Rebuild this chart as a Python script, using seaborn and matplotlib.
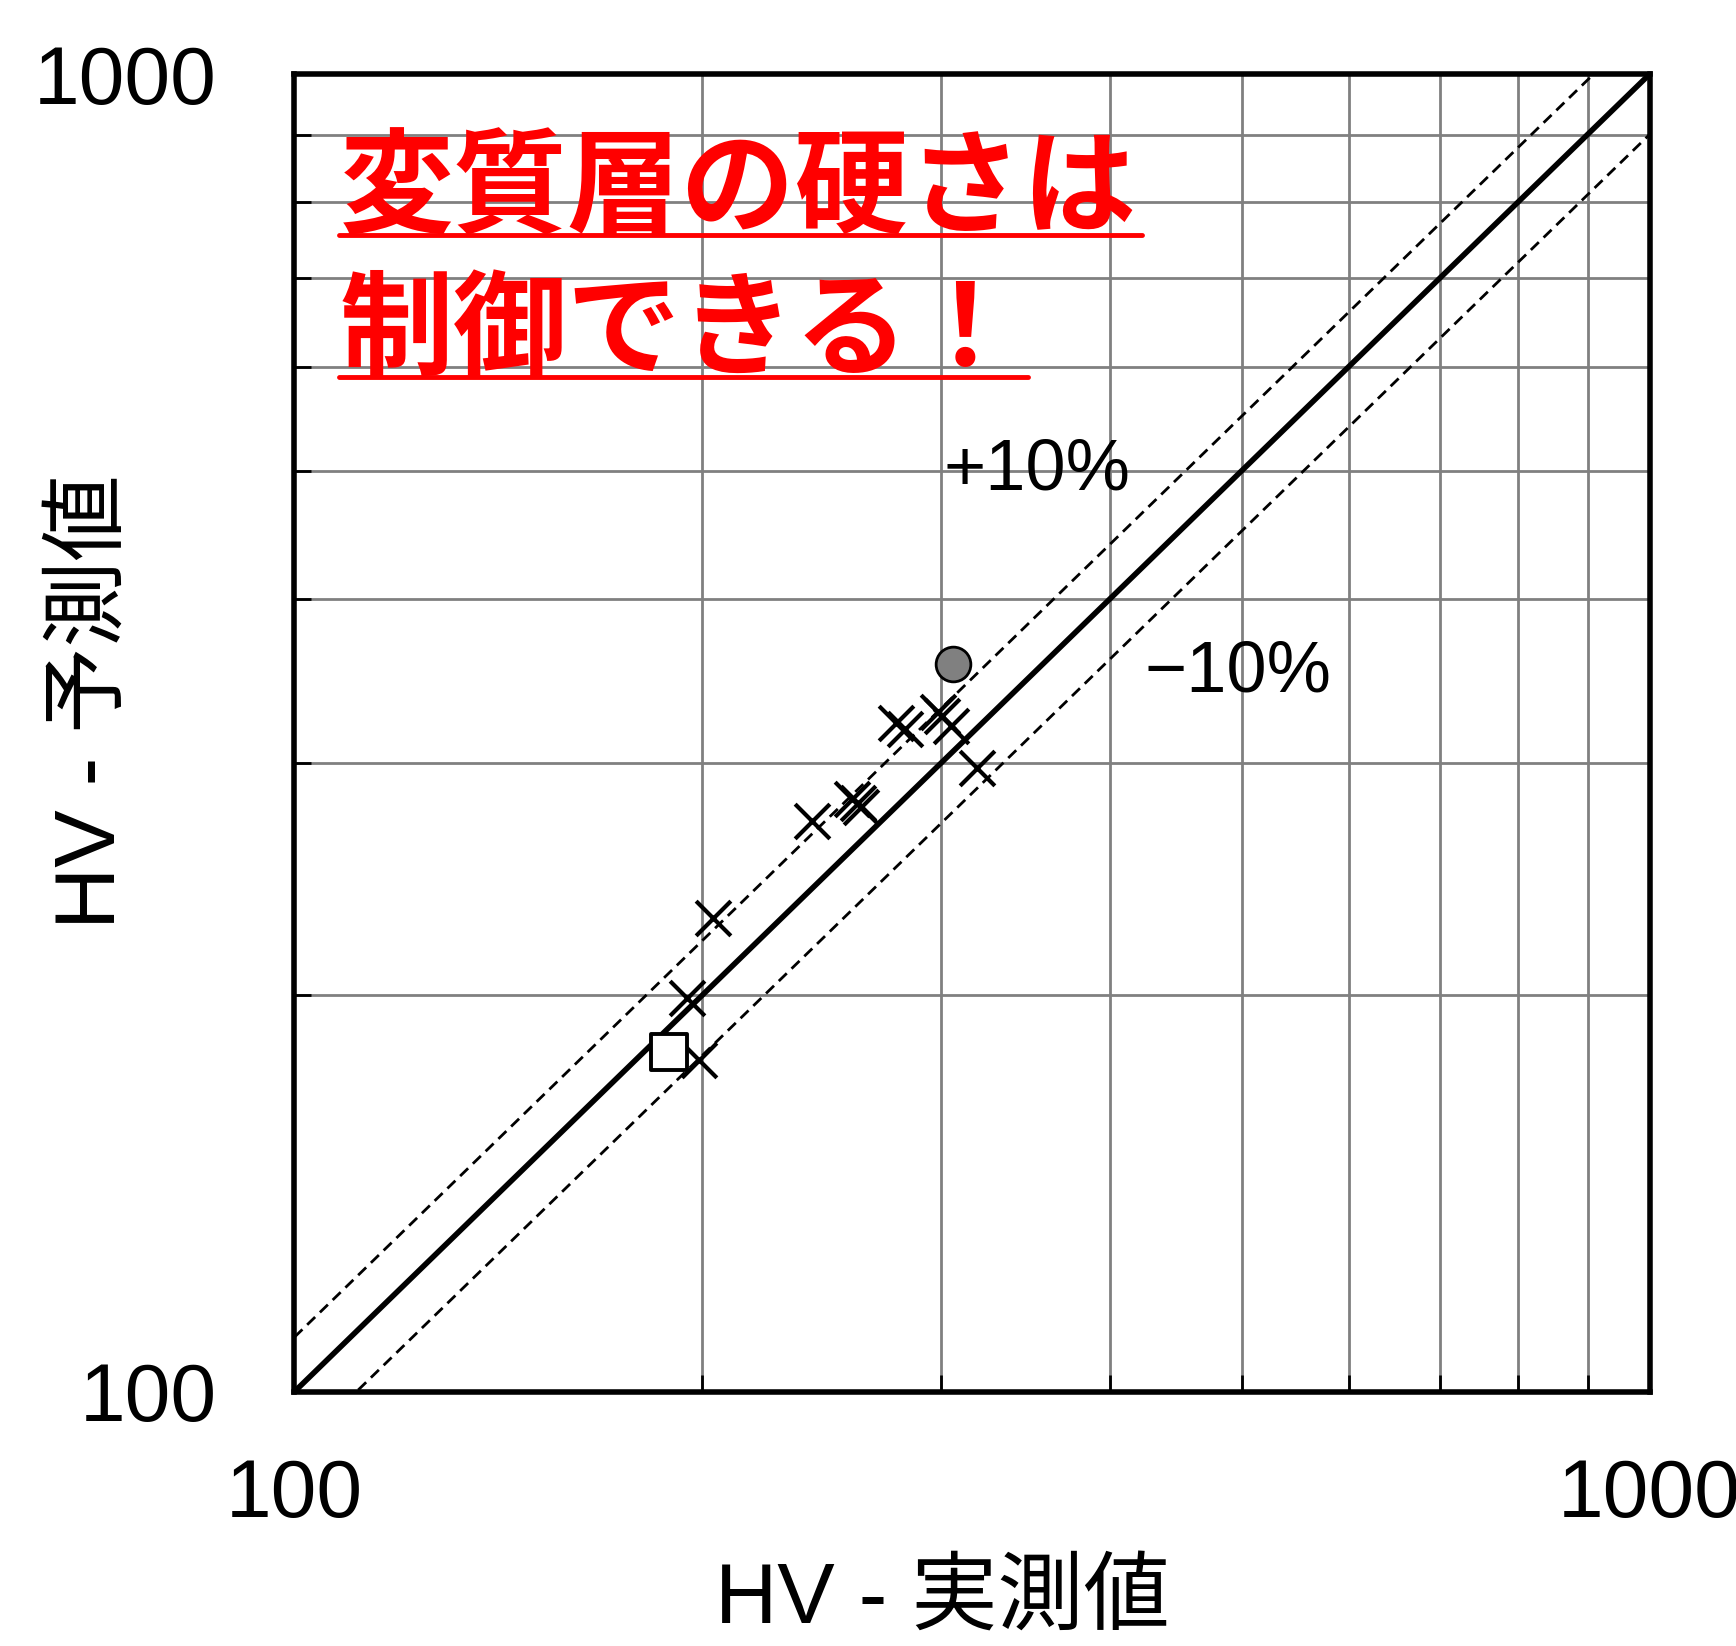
import numpy as np
import matplotlib
matplotlib.use("Agg")
import matplotlib.pyplot as plt
from matplotlib.ticker import FixedLocator, FixedFormatter, NullFormatter
from matplotlib.lines import Line2D
import seaborn as sns

# Vickers hardness of the altered layer: measured vs. predicted
cross_measured = [278, 282, 298.5, 300.5, 305, 319, 241, 258, 260.5, 262, 203.5, 195, 199]
cross_predicted = [322, 318.5, 328, 326, 320, 297.5, 271, 282, 280, 278, 229, 199, 178.5]
circle_measured = [306]
circle_predicted = [357]
square_measured = [189]
square_predicted = [181]

# y = r * x reference lines (exact agreement and +/-10 % band)
ratio_lines = [1.0, 1.1, 0.9]

axis_limits = [100, 1000]
major_ticks = [100, 1000]
major_labels = ["100", "1000"]
minor_ticks = [200, 300, 400, 500, 600, 700, 800, 900]

headline = ["変質層の硬さは", "制御できる！"]
x_label = "HV - 実測値"
y_label = "HV - 予測値"

sns.set_style("white")
plt.rcParams["font.family"] = ["Liberation Sans", "Noto Sans CJK JP", "DejaVu Sans"]
plt.rcParams["axes.unicode_minus"] = False
plt.rcParams["text.color"] = "black"
plt.rcParams["xtick.color"] = "black"
plt.rcParams["ytick.color"] = "black"
plt.rcParams["xtick.labelcolor"] = "black"
plt.rcParams["ytick.labelcolor"] = "black"

fig = plt.figure(figsize=(17.36, 16.46), dpi=100)
ax = fig.add_axes([0.1696, 0.1545, 0.7806, 0.8004])
ax.set_xscale("log")
ax.set_yscale("log")

line_x = np.array(axis_limits, dtype=float)
for r in ratio_lines:
    if r == 1.0:
        ax.plot(line_x, r * line_x, color="black", lw=4.0, zorder=3)
    else:
        ax.plot(line_x, r * line_x, color="black", lw=2.0, dashes=(4.0, 2.4), zorder=3)

sns.scatterplot(x=cross_measured, y=cross_predicted, marker="x", s=25 ** 2,
                color="black", linewidth=3.0, ax=ax, zorder=5, legend=False)
sns.scatterplot(x=circle_measured, y=circle_predicted, marker="o", s=25 ** 2,
                color="#808080", edgecolor="black", linewidth=2.0, ax=ax,
                zorder=6, legend=False)
sns.scatterplot(x=square_measured, y=square_predicted, marker="s", s=26 ** 2,
                color="white", edgecolor="black", linewidth=2.8, ax=ax,
                zorder=6, legend=False)

ax.set_xlim(axis_limits)
ax.set_ylim(axis_limits)

for axis in (ax.xaxis, ax.yaxis):
    axis.set_major_locator(FixedLocator(major_ticks))
    axis.set_major_formatter(FixedFormatter(major_labels))
    axis.set_minor_locator(FixedLocator(minor_ticks))
    axis.set_minor_formatter(NullFormatter())

ax.grid(True, which="minor", color="#808080", lw=2.0)
ax.grid(False, which="major")
ax.set_axisbelow(True)
ax.tick_params(which="minor", direction="in", length=12, width=2.0,
               color="black", left=True, bottom=True, right=False, top=False)
ax.tick_params(which="major", direction="in", length=0, labelsize=59,
               labelcolor="black", left=True, bottom=True, right=False, top=False)
ax.tick_params(axis="y", which="major", pad=56)
ax.tick_params(axis="x", which="major", pad=48)
for s in ax.spines.values():
    s.set_visible(True)
    s.set_color("black")
    s.set_linewidth(4.0)

ax.set_xlabel("")
ax.set_ylabel("")

# band labels
ax.text(301.5, 500, "+10%", fontsize=52, ha="left", va="center", color="black")
ax.text(423.6, 351, "\u221210%", fontsize=52, ha="left", va="center", color="black")

# axis titles
fig.text(0.5426, 0.0273, x_label, fontsize=62, ha="center", va="center",
         color="black")
fig.text(0.0536, 0.5735, y_label, fontsize=62, ha="center", va="center",
         rotation=90, color="black")

# red underlined headline
baselines = [0.8639, 0.7776]
heads = []
for txt, yb in zip(headline, baselines):
    heads.append(fig.text(0.1955, yb, txt, fontsize=82, color="#ff0000",
                          fontweight="bold", va="baseline", ha="left",
                          family=["Noto Sans CJK JP", "DejaVu Sans"]))

fig.canvas.draw()
inv = fig.transFigure.inverted()
for t, yb in zip(heads, baselines):
    bb = t.get_window_extent().transformed(inv)
    yl = yb - 11 / 1646
    fig.add_artist(Line2D([bb.x0, bb.x1 + 0.003], [yl, yl], color="#ff0000", lw=3.5))

fig.savefig("out.png", dpi=100)
